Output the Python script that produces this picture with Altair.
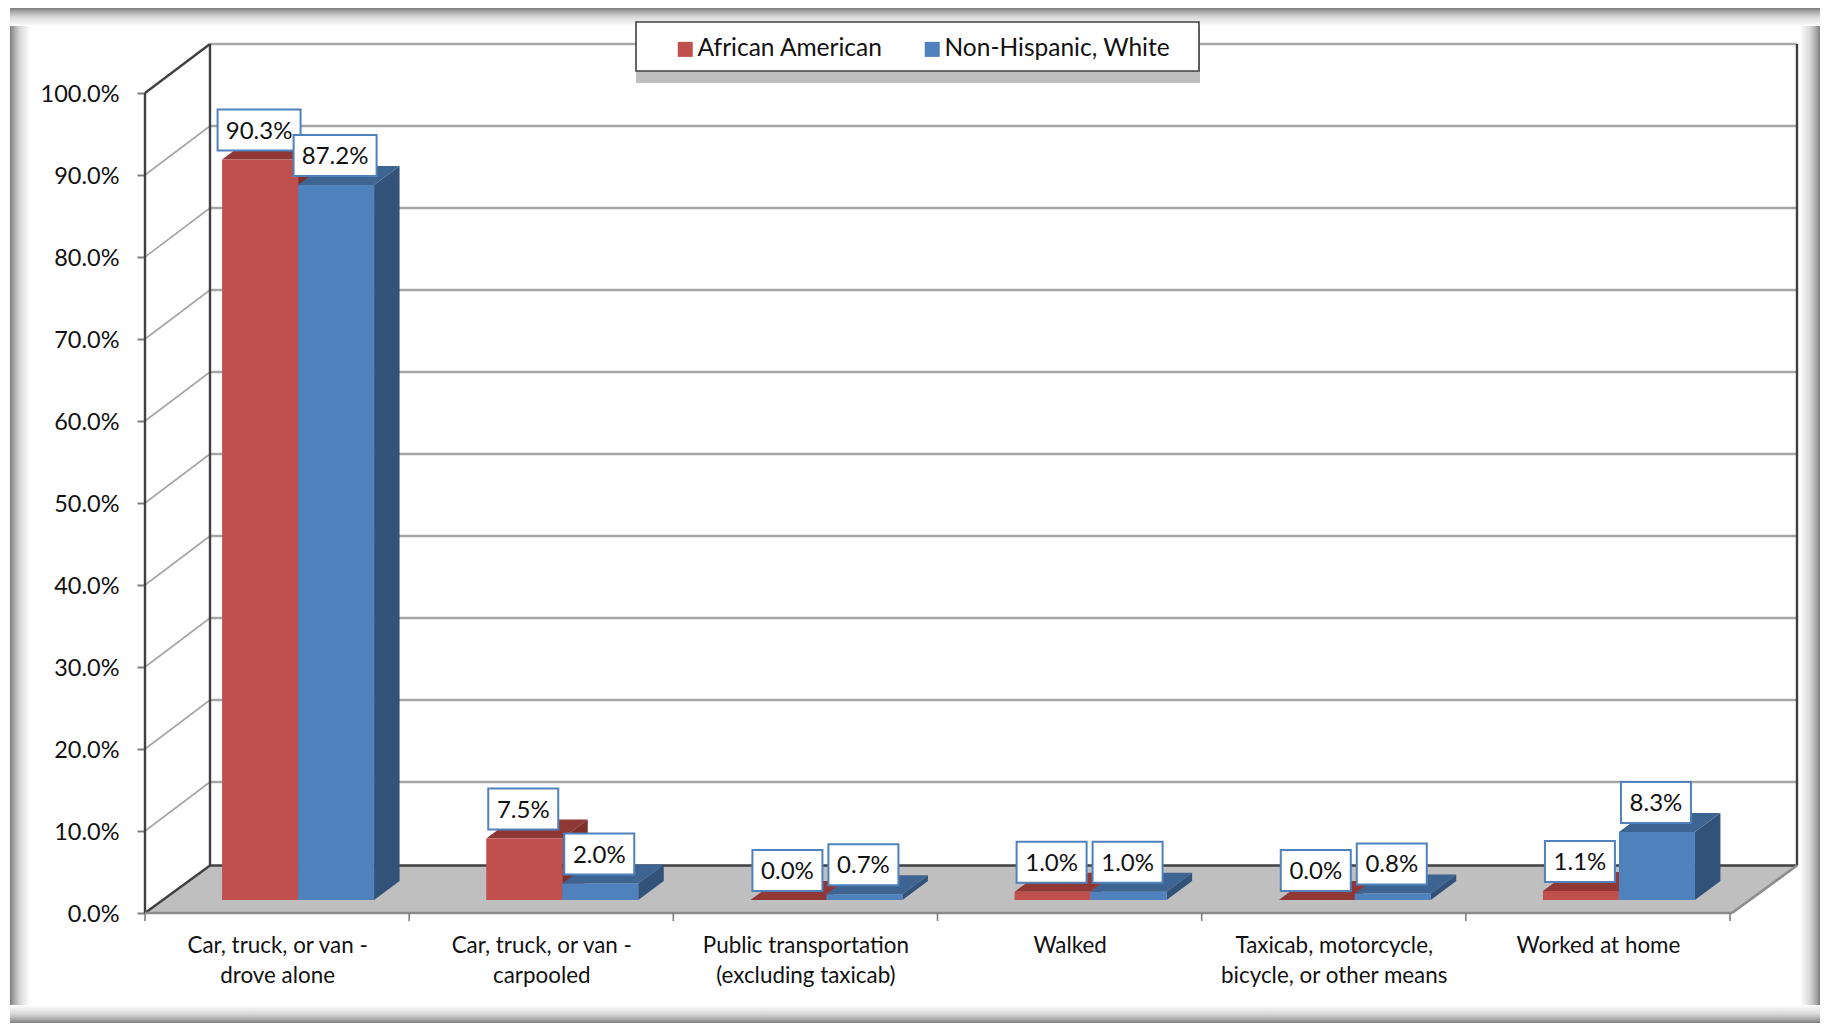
import json
import altair as alt
import pandas as pd

# ---- values
categories = [
    ["Car, truck, or van -", "drove alone"],
    ["Car, truck, or van -", "carpooled"],
    ["Public transportation", "(excluding taxicab)"],
    ["Walked"],
    ["Taxicab, motorcycle,", "bicycle,  or other means"],
    ["Worked at home"],
]
series_names = ["African American", "Non-Hispanic, White"]
african_american = [90.3, 7.5, 0.0, 1.0, 0.0, 1.1]
non_hispanic_white = [87.2, 2.0, 0.7, 1.0, 0.8, 8.3]
y_ticks = [0, 10, 20, 30, 40, 50, 60, 70, 80, 90, 100]

# ---- colours
front = ["#c0504d", "#4f81bd"]
top = ["#8f3835", "#3e6491"]
side = ["#7e2f2c", "#32527a"]
FONT = "Lato"

# ---- plot scale and pseudo-3D projection (all in data units)
W, H = 1652, 869
PX, PY = 264.17, 8.2            # pixels per category, pixels per percent
X_MAX, Y_MAX = W / PX, H / PY
WALL_DX, WALL_DY = 65 / PX, 49 / PY
FLOOR_DY = 47.5 / PY
BAR_W = 76 / PX
BAR_X = 21 / PX                 # shift of a bar pair from the category centre
BAR_BASE = 13 / PY
BAR_DX, BAR_DY = 25.5 / PX, 19 / PY
BOX_H, LABEL_UP = 41 / PY, 29.5 / PY

xs = alt.Scale(domain=[0, X_MAX], nice=False, zero=False)
ys = alt.Scale(domain=[0, Y_MAX], nice=False, zero=False)

x_axis = alt.Axis(
    values=[i + 0.5 for i in range(len(categories))],
    labelExpr=json.dumps(categories) + "[floor(datum.value)]",
    labelFont=FONT, labelFontSize=22.4, labelColor="#111111", labelLineHeight=30,
    labelPadding=21, labelOverlap=False, labelFlush=False, labelBound=False,
    labelAngle=0, ticks=False, domain=False, grid=False, labelLimit=400, title=None,
)
y_axis = alt.Axis(
    values=y_ticks,
    labelExpr="format(datum.value, '.1f') + '%'",
    labelFont=FONT, labelFontSize=23.5, labelColor="#111111",
    labelPadding=18, labelOffset=1, tickSize=8, tickColor="#7f7f7f", tickWidth=2,
    labelOverlap=False, labelFlush=False, labelBound=False,
    domain=False, grid=False, title=None,
)


def X(field="x:Q"):
    return alt.X(field, scale=xs, axis=x_axis)


def Y(field="y:Q"):
    return alt.Y(field, scale=ys, axis=y_axis)


rows_front, rows_face = [], []
rows_box = []
for s, vals in enumerate([african_american, non_hispanic_white]):
    for c, v in enumerate(vals):
        left = c + 0.5 + BAR_X - (1 - s) * BAR_W
        right = left + BAR_W
        t = BAR_BASE + v
        rows_front.append(dict(x=left, x2=right, y=BAR_BASE, y2=t, series=series_names[s]))
        f = f"{s}-{c}"
        rows_face += [
            dict(face="side" + f, kind="side", s=s, x=right, y=BAR_BASE, y2=t),
            dict(face="side" + f, kind="side", s=s, x=right + BAR_DX, y=BAR_BASE + BAR_DY, y2=t + BAR_DY),
            dict(face="top" + f, kind="top", s=s, x=left, y=t, y2=t),
            dict(face="top" + f, kind="top", s=s, x=left + BAR_DX, y=t, y2=t + BAR_DY),
            dict(face="top" + f, kind="top", s=s, x=right, y=t, y2=t + BAR_DY),
            dict(face="top" + f, kind="top", s=s, x=right + BAR_DX, y=t + BAR_DY, y2=t + BAR_DY),
        ]
        txt = f"{v:.1f}%"
        half = (83 if v >= 10 else 70) / 2 / PX
        cx = (left + right) / 2 - 1 / PX
        cy = t + LABEL_UP
        rows_box.append(dict(x=cx - half, x2=cx + half, y=cy - BOX_H / 2, y2=cy + BOX_H / 2,
                             cx=cx, cy=cy, text=txt))
faces = pd.DataFrame(rows_face)
fronts = pd.DataFrame(rows_front)
boxes = pd.DataFrame(rows_box)

# ---- frame around the picture (page decoration, in pixels relative to the plot)
OX, OY = 145, 44


def strip(x0, x1, y0, y1, horizontal, reverse=False):
    stops = [("#7d7d7d", 0), ("#a8a8a8", 0.2), ("#d8d8d8", 0.5), ("#ffffff", 1)]
    if reverse:
        stops = [(c, 1 - o) for c, o in reversed(stops)]
    g = alt.LinearGradient(
        gradient="linear",
        stops=[alt.GradientStop(color=c, offset=o) for c, o in stops],
        x1=0, x2=1 if horizontal else 0, y1=0, y2=0 if horizontal else 1,
    )
    return alt.Chart(pd.DataFrame({"a": [0]})).mark_rect(color=g).encode(
        x=alt.value(x0 - OX), x2=alt.value(x1 - OX), y=alt.value(y0 - OY), y2=alt.value(y1 - OY)
    )


frame = [
    strip(10, 30, 8, 1023, True),
    strip(1800, 1820, 8, 1023, True, True),
    strip(10, 1820, 8, 26, False),
    strip(10, 1820, 1005, 1023, False, True),
]

# ---- floor
floor_df = pd.DataFrame([
    dict(x=0, y=0, y2=0),
    dict(x=WALL_DX, y=0, y2=FLOOR_DY),
    dict(x=X_MAX - WALL_DX, y=0, y2=FLOOR_DY),
    dict(x=X_MAX, y=FLOOR_DY, y2=FLOOR_DY),
])
floor = alt.Chart(floor_df).mark_area(color="#bfbfbf", orient="vertical", opacity=1).encode(
    x=X(), y=Y(), y2="y2:Q"
)


# ---- rules
def rules(rows, color, width):
    return alt.Chart(pd.DataFrame(rows, columns=["x", "x2", "y", "y2"])).mark_rule(
        color=color, strokeWidth=width
    ).encode(x=X(), x2="x2:Q", y=Y(), y2="y2:Q")


grid_back = rules([(WALL_DX, X_MAX, t + WALL_DY, t + WALL_DY) for t in y_ticks[1:]], "#a6a6a6", 2.6)
grid_side = rules([(0, WALL_DX, t, t + WALL_DY) for t in y_ticks[1:-1]], "#a6a6a6", 1.6)
walls_dark = rules([
    (0, 0, 0, 100),
    (WALL_DX, WALL_DX, FLOOR_DY, 100 + WALL_DY),
    (X_MAX, X_MAX, FLOOR_DY, 100 + WALL_DY),
    (0, WALL_DX, 0, FLOOR_DY),
    (0, WALL_DX, 100, 100 + WALL_DY),
    (WALL_DX, X_MAX, FLOOR_DY, FLOOR_DY),
], "#404040", 2.4)
floor_front = rules([
    (0, X_MAX - WALL_DX, 0, 0),
    (X_MAX - WALL_DX, X_MAX, 0, FLOOR_DY),
], "#8c8c8c", 2.6)

# category separators under the floor
cat_ticks = alt.Chart(pd.DataFrame({"x": list(range(len(categories) + 1))})).mark_rule(
    color="#7f7f7f", strokeWidth=1.6
).encode(x=X(), y=alt.value(H), y2=alt.value(H + 8))


# ---- bars
def face_layer(kind, s, color):
    d = faces[(faces.kind == kind) & (faces.s == s)]
    return alt.Chart(d).mark_area(color=color, orient="vertical", opacity=1).encode(
        x=X(), y=Y(), y2="y2:Q", detail="face:N"
    )


bar_faces = [
    face_layer("side", 0, side[0]), face_layer("top", 0, top[0]),
    face_layer("side", 1, side[1]), face_layer("top", 1, top[1]),
]
bar_fronts = alt.Chart(fronts).mark_rect().encode(
    x=X(), x2="x2:Q", y=Y(), y2="y2:Q",
    color=alt.Color("series:N", title=None,
                    scale=alt.Scale(domain=series_names, range=front),
                    legend=alt.Legend(
                        orient="none", legendX=673 - OX, legendY=37 - OY, direction="horizontal",
                        symbolType="square", symbolSize=225, symbolStrokeWidth=0, padding=0,
                        labelFont=FONT, labelFontSize=24.5, labelColor="#111111", labelOffset=0,
                        columnPadding=37, labelLimit=400,
                    )),
)

# ---- value labels
label_boxes = alt.Chart(boxes).mark_rect(fill="white", stroke="#4f81bd", strokeWidth=2).encode(
    x=X(), x2="x2:Q", y=Y(), y2="y2:Q"
)
label_text = alt.Chart(boxes).mark_text(
    font=FONT, fontSize=24, color="#111111", baseline="middle", align="center", dy=1.5
).encode(
    x=X("cx:Q"), y=Y("cy:Q"), text="text:N"
)


# ---- legend box
def pixel_rect(x0, x1, y0, y1, **kw):
    return alt.Chart(pd.DataFrame({"a": [0]})).mark_rect(**kw).encode(
        x=alt.value(x0 - OX), x2=alt.value(x1 - OX), y=alt.value(y0 - OY), y2=alt.value(y1 - OY)
    )


legend_shadow = pixel_rect(636, 1200, 30, 83, color="#bfbfbf")
legend_box = pixel_rect(636, 1199, 22, 71, fill="white", stroke="#404040", strokeWidth=1.6)

chart = alt.layer(
    *frame, grid_back, grid_side, floor, walls_dark, floor_front, cat_ticks,
    *bar_faces, bar_fronts, label_boxes, label_text, legend_shadow, legend_box,
).properties(
    width=W, height=H,
    autosize=alt.AutoSizeParams(type="none"),
    padding={"left": 137, "top": 36, "right": 23, "bottom": 110},
    background="white",
).configure_view(stroke=None)

chart.save("out.html", embed_options={"renderer": "svg", "actions": False})
